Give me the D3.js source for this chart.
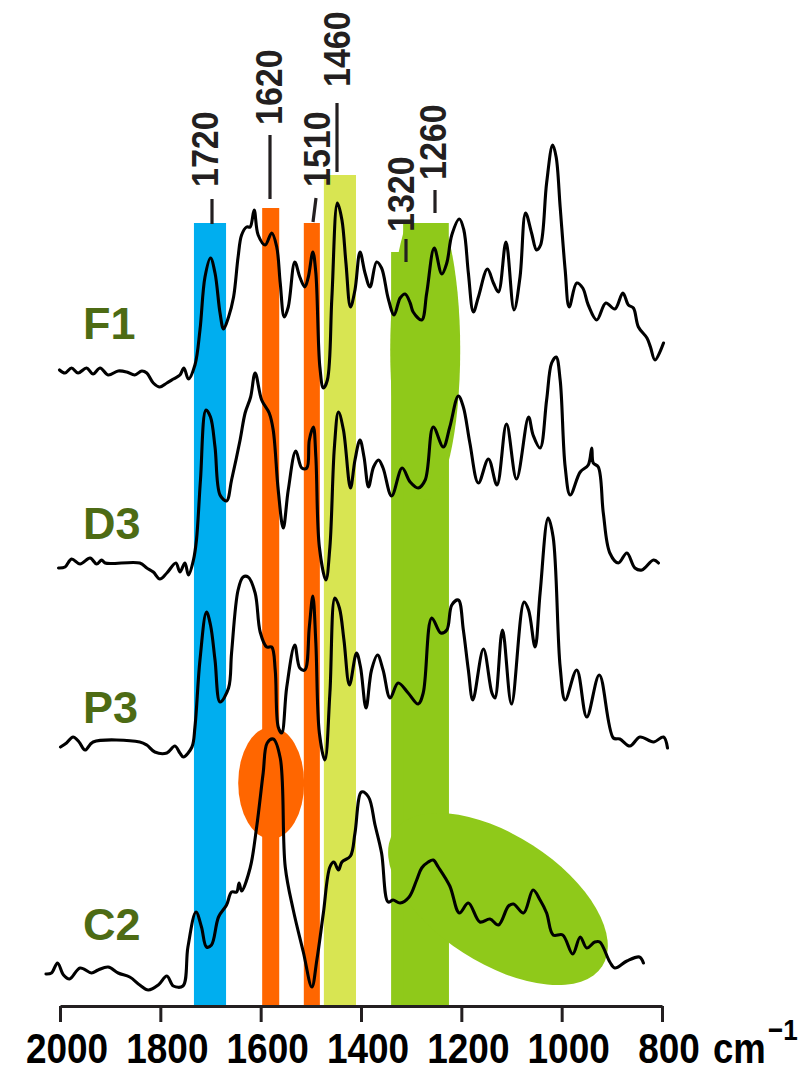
<!DOCTYPE html>
<html>
<head>
<meta charset="utf-8">
<script src="https://cdn.jsdelivr.net/npm/d3@7"></script>
<style>
  html, body { margin: 0; padding: 0; background: #ffffff; }
  svg { display: block; }
</style>
</head>
<body>
<svg id="chart" width="798" height="1073"></svg>
<script>
// ---- FTIR spectra: [wavenumber (cm-1), absorbance relative to own baseline (a.u.)] ----
const seriesNames = ["F1", "D3", "P3", "C2"];
const seriesOffsets = [63.4, 44.3, 26.4, 3.6];

const specF1 = [[2001,0.2],[1990,-0.1],[1977,0.4],[1964,-0.1],[1947,0.4],[1934,-0.2],[1920,0.4],[1904,-0.3],[1884,0.1],[1867,0.0],[1851,-0.3],[1837,0.1],[1827,-0.1],[1814,-1.1],[1801,-1.5],[1787,-1.1],[1774,-0.7],[1761,-0.3],[1753,0.4],[1744,-0.7],[1731,0.7],[1721,4.2],[1711,9.5],[1700,11.4],[1691,9.9],[1681,5.9],[1674,4.3],[1664,5.5],[1654,7.5],[1645,11.5],[1638,13.7],[1628,14.5],[1621,14.5],[1613,16.2],[1605,13.7],[1591,12.7],[1578,13.9],[1568,12.5],[1561,8.9],[1553,5.5],[1545,6.5],[1532,11.0],[1522,9.5],[1512,8.5],[1505,9.5],[1496,12.0],[1490,9.9],[1482,0.5],[1475,-1.6],[1467,-0.8],[1458,7.5],[1447,16.9],[1438,15.2],[1430,10.9],[1421,6.5],[1412,8.2],[1402,12.0],[1392,9.9],[1382,8.5],[1369,11.0],[1359,10.4],[1346,7.4],[1334,5.7],[1322,7.4],[1312,7.8],[1302,6.9],[1296,6.0],[1279,5.2],[1269,7.9],[1254,12.4],[1239,9.8],[1229,10.9],[1219,13.7],[1204,15.3],[1195,14.2],[1186,9.9],[1176,6.0],[1166,7.5],[1148,10.3],[1136,8.9],[1126,8.0],[1111,13.0],[1095,6.2],[1083,9.5],[1072,15.9],[1060,13.9],[1050,12.2],[1042,12.7],[1030,18.9],[1018,22.7],[1011,21.5],[1003,16.5],[993,10.2],[985,6.5],[970,8.9],[958,8.4],[947,6.7],[930,5.2],[912,6.9],[894,6.3],[878,7.9],[867,6.7],[857,6.4],[847,4.5],[830,3.4],[823,2.5],[814,1.2],[797,2.9]];

const specD3 = [[2003,-0.5],[1990,-0.4],[1977,0.4],[1960,-0.1],[1940,0.5],[1927,-0.1],[1917,0.3],[1910,0.0],[1841,0.0],[1827,-0.5],[1814,-0.9],[1801,-1.6],[1787,-1.0],[1769,0.0],[1761,-0.9],[1751,0.0],[1744,-1.2],[1734,0.3],[1728,2.3],[1720,8.3],[1709,15.3],[1700,14.6],[1691,11.6],[1681,6.8],[1668,6.2],[1658,8.3],[1641,12.3],[1631,15.0],[1620,16.6],[1611,19.0],[1598,16.3],[1583,15.0],[1575,13.3],[1565,7.3],[1555,3.5],[1545,7.3],[1530,11.2],[1518,9.5],[1508,9.5],[1503,12.3],[1495,13.6],[1490,10.6],[1483,1.6],[1470,-1.7],[1462,1.6],[1453,11.6],[1445,15.1],[1435,13.3],[1421,7.5],[1412,10.3],[1402,12.3],[1394,10.6],[1385,7.6],[1375,9.6],[1365,10.3],[1356,9.5],[1339,6.7],[1318,9.5],[1302,8.1],[1286,7.5],[1272,8.3],[1256,13.6],[1236,11.6],[1223,13.6],[1206,16.7],[1196,15.6],[1183,12.0],[1166,8.0],[1146,10.4],[1129,7.8],[1110,13.9],[1090,8.4],[1066,14.6],[1057,12.8],[1043,11.5],[1030,16.3],[1020,20.0],[1011,20.6],[1003,18.3],[993,9.6],[983,6.8],[963,9.1],[947,9.8],[940,11.5],[937,10.0],[927,9.6],[917,5.0],[904,1.0],[887,0.0],[870,1.0],[854,-0.5],[840,-0.7],[817,0.3],[807,0.0]];

const specP3 = [[1999,-0.5],[1987,-0.1],[1974,0.5],[1962,0.0],[1950,-0.8],[1934,0.0],[1841,0.0],[1827,-0.3],[1811,-1.0],[1787,-1.1],[1771,-0.4],[1761,-1.1],[1754,-1.5],[1737,-0.5],[1731,1.5],[1721,8.2],[1708,13.0],[1700,11.7],[1691,8.2],[1681,4.0],[1664,5.4],[1658,8.9],[1645,15.2],[1635,16.5],[1625,16.5],[1611,14.9],[1601,11.0],[1588,9.5],[1578,9.5],[1571,7.2],[1565,1.5],[1558,0.9],[1548,5.5],[1532,9.7],[1522,7.4],[1512,7.2],[1503,11.5],[1496,14.6],[1490,9.9],[1483,0.9],[1472,-1.8],[1462,4.9],[1452,14.4],[1443,13.4],[1434,10.2],[1423,5.7],[1409,8.9],[1401,7.5],[1390,3.4],[1379,7.2],[1367,8.7],[1356,7.2],[1342,4.4],[1326,5.9],[1306,4.9],[1286,3.8],[1276,4.9],[1259,12.4],[1241,10.9],[1229,11.2],[1219,13.7],[1206,14.2],[1196,11.2],[1186,7.2],[1177,4.2],[1156,9.3],[1139,4.9],[1133,4.4],[1118,11.2],[1100,3.8],[1075,14.0],[1066,13.2],[1053,9.5],[1043,14.9],[1027,22.4],[1017,20.5],[1003,7.5],[993,4.2],[970,7.2],[950,2.5],[925,6.7],[897,0.4],[884,0.3],[864,-0.4],[844,0.5],[817,0.0],[797,0.5],[789,-0.6]];

const specC2 = [[2028,-0.4],[2017,-0.3],[2005,0.7],[1993,-0.5],[1981,-0.9],[1960,0.2],[1937,-0.3],[1924,0.0],[1904,0.3],[1884,-0.3],[1861,-0.7],[1841,-1.5],[1824,-2.0],[1804,-1.5],[1787,-0.6],[1774,-1.6],[1755,-1.6],[1745,2.3],[1729,5.8],[1718,4.3],[1708,2.3],[1698,2.5],[1684,5.3],[1668,6.5],[1658,7.8],[1648,7.8],[1643,8.7],[1638,7.9],[1621,10.2],[1608,14.3],[1595,19.7],[1587,22.7],[1575,23.1],[1561,21.2],[1551,10.3],[1535,6.0],[1515,1.8],[1498,-1.7],[1488,1.0],[1475,5.7],[1462,10.3],[1454,10.8],[1445,10.0],[1438,10.8],[1421,11.4],[1412,13.7],[1399,17.8],[1385,17.3],[1372,14.5],[1359,11.7],[1346,6.8],[1336,7.0],[1322,6.7],[1304,7.3],[1289,9.0],[1279,10.2],[1266,10.8],[1256,11.0],[1246,10.3],[1223,8.4],[1204,5.7],[1186,6.7],[1163,4.8],[1143,5.1],[1126,4.5],[1106,6.4],[1096,6.6],[1076,5.7],[1057,8.0],[1043,7.0],[1030,5.7],[1017,3.5],[998,3.5],[978,1.6],[963,3.3],[950,2.2],[934,2.8],[924,2.8],[904,0.8],[894,0.2],[870,0.9],[845,1.3],[837,0.7]];

const spectra = [specF1, specD3, specP3, specC2];

// ---- highlighted absorption regions (cm-1) and their heights ----
const bandRanges = [[1733, 1669], [1597, 1563], [1514, 1482], [1474, 1410], [1340, 1225]];
const bandTops = [78.3, 79.8, 78.3, 83.1, 75.4];

// ---- peak annotations ----
const peakLabels = ["1720", "1620", "1510", "1460", "1320", "1260"];

// ---- axis ----
const xTicks = [2000, 1800, 1600, 1400, 1200, 1000, 800];
const xUnit = "cm";
const xUnitExp = "\u22121";

// ================= drawing =================
const svg = d3.select("#chart");
const x = d3.scaleLinear().domain([2000, 800]).range([60, 662]);
const y = d3.scaleLinear().domain([0, 90]).range([1006, 106]);

const bandColors = ["#00AEEF", "#FF6600", "#FF6600", "#D8E552", "#8FC91A"];
const GREEN = "#8FC91A";
const ORANGE = "#FF6600";
const INK = "#231F20";

// bands
const gBands = svg.append("g");
bandRanges.forEach((r, i) => {
  gBands.append("rect")
    .attr("x", x(r[0]))
    .attr("y", y(bandTops[i]))
    .attr("width", x(r[1]) - x(r[0]))
    .attr("height", y(0) - y(bandTops[i]))
    .attr("fill", bandColors[i]);
});

// raised part of the 1260 region and its elongated highlight
svg.append("defs").append("clipPath").attr("id", "clipTop")
  .append("rect").attr("x", 0).attr("y", y(78.3)).attr("width", 798).attr("height", 1073);
gBands.append("rect")
  .attr("x", x(1316)).attr("y", y(78.3))
  .attr("width", x(1225) - x(1316)).attr("height", y(0) - y(78.3))
  .attr("fill", GREEN);
gBands.append("ellipse")
  .attr("cx", x(1272)).attr("cy", y(65.6))
  .attr("rx", 35).attr("ry", 150)
  .attr("clip-path", "url(#clipTop)")
  .attr("fill", GREEN);
// C2 fingerprint region highlight
gBands.append("ellipse")
  .attr("rx", 124).attr("ry", 64)
  .attr("transform", `translate(${x(1127)},${y(10.7)}) rotate(32.8)`)
  .attr("fill", GREEN);
// C2 1600 band highlight
gBands.append("ellipse")
  .attr("cx", x(1579)).attr("cy", y(22.3))
  .attr("rx", 33).attr("ry", 56)
  .attr("fill", ORANGE);

// spectra
const gLines = svg.append("g");
spectra.forEach((s, i) => {
  const off = seriesOffsets[i];
  const line = d3.line()
    .x(d => x(d[0]))
    .y(d => y(off + d[1]))
    .curve(d3.curveCatmullRom.alpha(0.5));
  gLines.append("path")
    .datum(s)
    .attr("d", line)
    .attr("fill", "none")
    .attr("stroke", "#000")
    .attr("stroke-width", 3.1)
    .attr("stroke-linejoin", "round")
    .attr("stroke-linecap", "round");
});

// series names
const nameBaselines = [339, 539, 723, 940];
seriesNames.forEach((n, i) => {
  svg.append("text")
    .attr("x", 83).attr("y", nameBaselines[i])
    .attr("font-family", "'Liberation Sans', Arial, sans-serif")
    .attr("font-weight", "bold")
    .attr("font-size", 45)
    .attr("fill", "#4D6B14")
    .text(n);
});

// peak labels with leader lines
const labelLayout = [
  { cx: 205,   bottom: 187, line: [212, 199, 212, 224] },
  { cx: 268.5, bottom: 125, line: [270, 135, 270, 199] },
  { cx: 316.5, bottom: 187, line: [316, 198, 313, 222] },
  { cx: 337,   bottom: 87,  line: [337, 103, 337, 172] },
  { cx: 401,   bottom: 232, line: [406, 239, 406, 262] },
  { cx: 432.5, bottom: 180, line: [435, 190, 435, 213] }
];
const gLab = svg.append("g");
peakLabels.forEach((t, i) => {
  const L = labelLayout[i];
  gLab.append("line")
    .attr("x1", L.line[0]).attr("y1", L.line[1])
    .attr("x2", L.line[2]).attr("y2", L.line[3])
    .attr("stroke", INK).attr("stroke-width", 3.2);
  gLab.append("text")
    .attr("transform", `translate(${L.cx},${L.bottom}) rotate(-90) scale(0.92,1)`)
    .attr("dy", "0.358em")
    .attr("text-anchor", "start")
    .attr("font-family", "'Liberation Sans', Arial, sans-serif")
    .attr("font-weight", "bold")
    .attr("font-size", 37)
    .attr("fill", INK)
    .text(t);
});

// x axis
const axisY = 1006;
const gAxis = svg.append("g").attr("transform", `translate(0,${axisY})`);
const axis = d3.axisBottom(x).tickValues(xTicks).tickSize(16).tickSizeOuter(0).tickFormat("");
gAxis.call(axis);
gAxis.select(".domain").attr("stroke", INK).attr("stroke-width", 3);
gAxis.selectAll(".tick line").attr("stroke", INK).attr("stroke-width", 3);

xTicks.forEach(v => {
  svg.append("g")
    .attr("transform", `translate(${x(v) + 7},1063) scale(0.88,1)`)
    .append("text")
    .attr("text-anchor", "middle")
    .attr("font-family", "'Liberation Sans', Arial, sans-serif")
    .attr("font-weight", "bold")
    .attr("font-size", 42)
    .attr("fill", "#000")
    .text(v);
});
svg.append("g")
  .attr("transform", `translate(713,1063) scale(0.87,1)`)
  .append("text")
  .attr("font-family", "'Liberation Sans', Arial, sans-serif")
  .attr("font-weight", "bold")
  .attr("font-size", 42)
  .attr("fill", "#000")
  .text(xUnit);
svg.append("g")
  .attr("transform", `translate(768,1040) scale(0.87,1)`)
  .append("text")
  .attr("font-family", "'Liberation Sans', Arial, sans-serif")
  .attr("font-weight", "bold")
  .attr("font-size", 30)
  .attr("fill", "#000")
  .text(xUnitExp);
</script>
</body>
</html>
